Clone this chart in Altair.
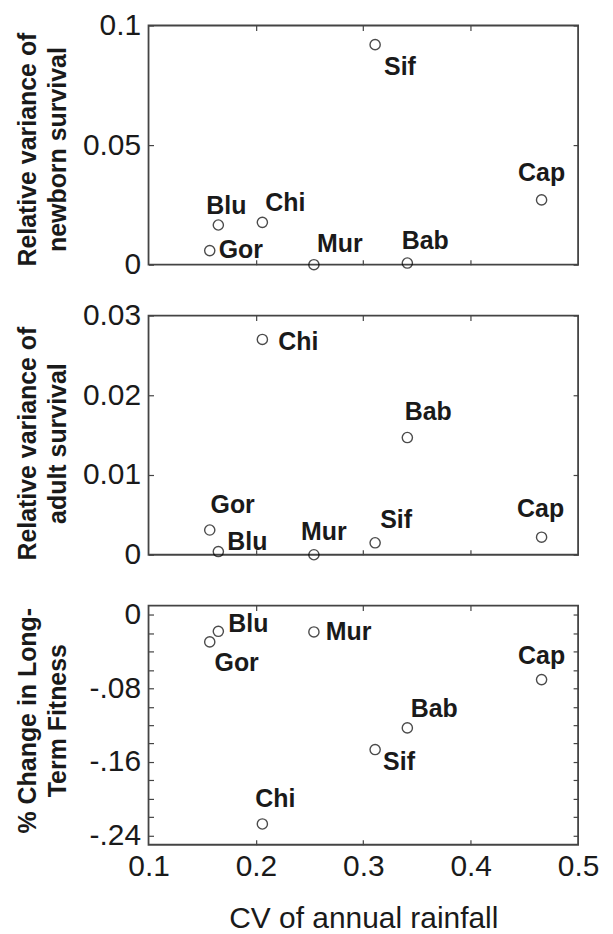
import altair as alt
import pandas as pd

# ---- data ----
sites = ["Sif", "Cap", "Blu", "Chi", "Gor", "Mur", "Bab"]
cv_rain = [0.311, 0.466, 0.165, 0.206, 0.157, 0.254, 0.341]
newborn_var = [0.0920, 0.0271, 0.0166, 0.0177, 0.0059, 0.0000, 0.0007]
adult_var = [0.0015, 0.0022, 0.0004, 0.0270, 0.0031, 0.0000, 0.0147]
fitness_change = [-0.1465, -0.0705, -0.0180, -0.2274, -0.0295, -0.0187, -0.1230]

x_ticks = [0.1, 0.2, 0.3, 0.4, 0.5]
x_inner_ticks = [0.2, 0.3, 0.4]
top_ticks = [0, 0.05, 0.1]
mid_ticks = [0, 0.01, 0.02, 0.03]
bot_ticks = [0, -0.08, -0.16, -0.24]
bot_minor = [0, -0.02, -0.04, -0.06, -0.08, -0.10, -0.12, -0.14, -0.16,
             -0.18, -0.20, -0.22, -0.24]

# ---- label placement (layout only): dx, dy, align ----
top_place = {"Sif": (9, 22, "left"), "Cap": (0, -27, "center"), "Blu": (8, -19, "center"),
             "Chi": (23, -19, "center"), "Gor": (9, -1, "left"), "Mur": (26, -21, "center"),
             "Bab": (18, -22, "center")}
mid_place = {"Chi": (16, 3, "left"), "Bab": (21, -26, "center"), "Gor": (23, -25, "center"),
             "Blu": (9, -10, "left"), "Mur": (10, -23, "center"), "Sif": (21, -23, "center"),
             "Cap": (-1, -28, "center")}
bot_place = {"Blu": (10, -7, "left"), "Gor": (27, 21, "center"), "Mur": (12, 0, "left"),
             "Cap": (0, -24, "center"), "Bab": (27, -19, "center"), "Sif": (8, 13, "left"),
             "Chi": (13, -25, "center")}

df = pd.DataFrame({"site": sites, "cv": cv_rain, "newborn": newborn_var,
                   "adult": adult_var, "fitness": fitness_change})

W, H = 431, 240
FONT = "Liberation Sans"
INK = "#1a1a1a"
FRAME = "#444444"


def panel(ycol, ydomain, yvals, minor, label_expr, title, place, show_x, title_shift):
    base = alt.Chart(df)
    xs = alt.Scale(domain=[0.1, 0.5], nice=False, zero=False)
    ys = alt.Scale(domain=ydomain, nice=False, zero=False)

    if show_x:
        x_axis = alt.Axis(orient="bottom", values=x_ticks, format=".1f", ticks=False,
                          domain=False, grid=False, labelFontSize=30, labelPadding=7,
                          labelFlush=False, labelOverlap=False, labelColor=INK,
                          labelFont=FONT, title="CV of annual rainfall", titleFontSize=30,
                          titleFontWeight="normal", titleFont=FONT, titleColor=INK,
                          titlePadding=22)
    else:
        x_axis = None

    y_axis = alt.Axis(orient="left", values=yvals, labelExpr=label_expr, ticks=False,
                      domain=False, grid=False, labelFontSize=30, labelPadding=8,
                      labelFlush=False, labelOverlap=False, labelColor=INK, labelFont=FONT,
                      title=title, titleFontSize=25, titleFontWeight="bold", titleFont=FONT,
                      titleColor=INK, titleLineHeight=30, titleAngle=-90,
                      titleBaseline="middle", titleAlign="center",
                      titleX=-121, titleY=H / 2 + title_shift)

    pts = base.mark_point(shape="circle", filled=False, size=105, color="black",
                          strokeWidth=1.4).encode(
        x=alt.X("cv:Q", scale=xs, axis=x_axis),
        y=alt.Y(f"{ycol}:Q", scale=ys, axis=y_axis),
    )

    def tick_layer(xo, yo):
        return base.mark_point(opacity=0).encode(
            x=alt.X("cv:Q", scale=xs,
                    axis=alt.Axis(orient=xo, offset=-5, values=x_inner_ticks, tickSize=5,
                                  tickWidth=1.2, tickColor=FRAME, labels=False,
                                  domain=False, grid=False, title=None)),
            y=alt.Y(f"{ycol}:Q", scale=ys,
                    axis=alt.Axis(orient=yo, offset=-5, values=minor, tickSize=5,
                                  tickWidth=1.2, tickColor=FRAME, labels=False,
                                  domain=False, grid=False, title=None)),
        )

    layers = [tick_layer("bottom", "left"), tick_layer("top", "right"), pts]
    for name, (dx, dy, align) in place.items():
        layers.append(
            base.transform_filter(alt.datum.site == name)
            .mark_text(dx=dx, dy=dy, align=align, baseline="middle", fontSize=25,
                       fontWeight="bold", font=FONT, color=INK)
            .encode(x=alt.X("cv:Q", scale=xs, axis=None),
                    y=alt.Y(f"{ycol}:Q", scale=ys, axis=None),
                    text="site:N")
        )
    return alt.layer(*layers).resolve_axis(x="independent", y="independent").properties(
        width=W, height=H)


p1 = panel("newborn", [0, 0.1], top_ticks, [0, 0.05, 0.1],
           "datum.value == 0 ? '0' : format(datum.value, '~g')",
           ["Relative variance of", "newborn survival"], top_place, False, 4)
p2 = panel("adult", [0, 0.03], mid_ticks, mid_ticks,
           "datum.value == 0 ? '0' : format(datum.value, '.2f')",
           ["Relative variance of", "adult survival"], mid_place, False, 8)
p3 = panel("fitness", [-0.25, 0.01], bot_ticks, bot_minor,
           "datum.value == 0 ? '0' : '-' + replace(format(abs(datum.value), '.2f'), '0.', '.')",
           ["% Change in Long-", "Term Fitness"], bot_place, True, -5)

chart = alt.vconcat(p1, p2, p3, spacing=51, bounds="flush").configure_view(
    stroke=FRAME, strokeWidth=1.8
).properties(padding={"left": 7, "top": 0, "right": 5, "bottom": 5})

chart.save("out.html", embed_options={"renderer": "svg", "actions": False})
